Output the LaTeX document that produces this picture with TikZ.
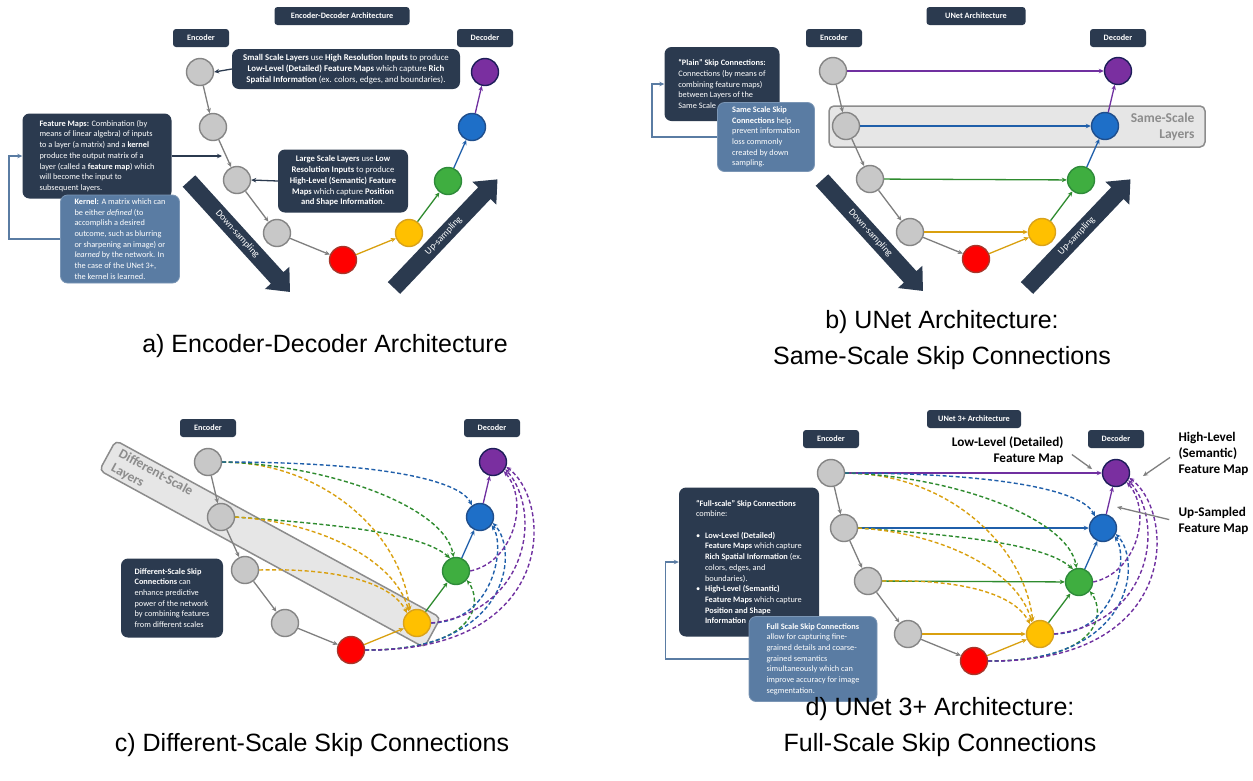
\documentclass[tikz,border=0pt]{standalone}
\usepackage{fontspec}
\setmainfont{Carlito}
\newfontfamily\capfont{Liberation Sans}
\usetikzlibrary{arrows.meta,calc}
\definecolor{navyb}{HTML}{2B3A4F}
\definecolor{steel}{HTML}{5A7CA3}
\definecolor{ngrayf}{HTML}{C8C8C8}
\definecolor{ngrayd}{HTML}{858585}
\definecolor{redf}{HTML}{FF0000}
\definecolor{redd}{HTML}{A8362B}
\definecolor{yelf}{HTML}{FFC000}
\definecolor{yeld}{HTML}{D9A21B}
\definecolor{grnf}{HTML}{3FAE40}
\definecolor{grnd}{HTML}{2E8B3A}
\definecolor{bluf}{HTML}{1E6FC8}
\definecolor{blud}{HTML}{1F4E8C}
\definecolor{purf}{HTML}{7A2FA0}
\definecolor{purd}{HTML}{1E1E5A}
\definecolor{orl}{HTML}{D9A00F}
\definecolor{grl}{HTML}{2E8B2E}
\definecolor{bll}{HTML}{1F5FAA}
\definecolor{pul}{HTML}{7030A0}
\definecolor{gyl}{HTML}{7F7F7F}
\definecolor{bandf}{HTML}{E6E6E6}
\definecolor{bandd}{HTML}{8C8C8C}
\tikzset{
 circ/.style={circle, minimum size=27pt, inner sep=0pt, line width=1.4pt},
 gn/.style={circ, fill=ngrayf, draw=ngrayd},
 rn/.style={circ, fill=redf, draw=redd},
 yn/.style={circ, fill=yelf, draw=yeld},
 grn/.style={circ, fill=grnf, draw=grnd},
 bn/.style={circ, fill=bluf, draw=blud},
 pn/.style={circ, fill=purf, draw=purd},
 atip/.style={-{Stealth[length=5pt,width=4.5pt]}},
 ga/.style={atip, draw=gyl, line width=1.3pt},
 oa/.style={atip, draw=orl, line width=1.3pt},
 gra/.style={atip, draw=grl, line width=1.3pt},
 ba/.style={atip, draw=bll, line width=1.3pt},
 pa/.style={atip, draw=pul, line width=1.3pt},
 dsh/.style={dash pattern=on 4pt off 2.5pt, line width=1.4pt},
 dbox/.style={fill=navyb, rounded corners=7pt, text=white, font=\fontsize{8.3}{10.7}\selectfont, align=left, inner sep=0pt},
 sbox/.style={dbox, fill=steel, draw=steel!80!white, line width=0.8pt},
 tagbox/.style={fill=navyb, rounded corners=3pt, text=white, font=\bfseries\fontsize{8.2}{9}\selectfont, minimum height=18pt, minimum width=56pt, inner sep=0pt},
 navarr/.style={atip, draw=navyb, line width=1.3pt},
 stlarr/.style={atip, draw=steel, line width=1.3pt},
 captxt/.style={font={\capfont\fontsize{25}{36.5}\selectfont}, align=center},
 labtxt/.style={font=\bfseries\fontsize{13.2}{16}\selectfont},
 grayarr/.style={atip, draw=gyl, line width=1.3pt},
 bandbox/.style={fill=bandf, draw=bandd, line width=1.5pt, rounded corners=5pt},
 bandtxt/.style={text=bandd, font=\bfseries\fontsize{13.5}{16}\selectfont},
 bigtxt/.style={text=white, font=\fontsize{9.5}{10}\selectfont},
}
\newcommand\mknodes[1]{%
 \node[gn] (#1g1) at (0,0) {};
 \node[gn] (#1g2) at (13,55) {};
 \node[gn] (#1g3) at (37,108) {};
 \node[gn] (#1g4) at (77,161) {};
 \node[rn] (#1r) at (143,188) {};
 \node[yn] (#1y) at (209,161) {};
 \node[grn] (#1gr) at (248,109) {};
 \node[bn] (#1b) at (272,55) {};
 \node[pn] (#1p) at (285,0) {};
}
\newcommand\mkchain[1]{%
 \draw[ga] (#1g1) -- (#1g2); \draw[ga] (#1g2) -- (#1g3);
 \draw[ga] (#1g3) -- (#1g4); \draw[ga] (#1g4) -- (#1r);
 \draw[oa] (#1r) -- (#1y); \draw[gra] (#1y) -- (#1gr);
 \draw[ba] (#1gr) -- (#1b); \draw[pa] (#1b) -- (#1p);
}
\newcommand\mksame[1]{%
 \draw[pa] (#1g1) -- (#1p); \draw[ba] (#1g2) -- (#1b);
 \draw[gra] (#1g3) -- (#1gr); \draw[oa] (#1g4) -- (#1y);
}
\newcommand\mkdiffL[1]{%
 \draw[oa,dsh] (#1g1.east) .. controls (112,0) and (192,68) .. (#1y.120);
 \draw[gra,dsh] (#1g1.east) .. controls (122,3) and (237,45) .. (#1gr.100);
 \draw[ba,dsh] (#1g1.east) .. controls (172,0) and (252,18) .. (#1b.125);
 \draw[gra,dsh] (#1g2.east) .. controls (122,62) and (212,70) .. (#1gr.115);
 \draw[oa,dsh] (#1g2.east) .. controls (112,60) and (187,98) .. (#1y.125);
 \draw[oa,dsh] (#1g3.east) .. controls (122,106) and (182,118) .. (#1y.135);
}
\newcommand\mkdiffR[1]{%
 \draw[gra,dsh] (#1r.east) .. controls (270,188) and (275,140) .. (#1gr.-40);
 \draw[ba,dsh] (#1r.east) .. controls (300,190) and (312,90) .. (#1b.-25);
 \draw[ba,dsh] (#1y.east) .. controls (285,160) and (298,85) .. (#1b.-35);
 \draw[pa,dsh] (#1r.east) .. controls (350,190) and (345,40) .. (#1p.-20);
 \draw[pa,dsh] (#1y.east) .. controls (320,150) and (335,50) .. (#1p.-30);
 \draw[pa,dsh] (#1gr.east) .. controls (305,100) and (322,40) .. (#1p.-40);
}
\newcommand\bigarr[3]{%
 \begin{scope}[shift={#1}, rotate=#2]
 \fill[navyb] (0,-8.5) -- (131,-8.5) -- (131,-16.5) -- (150,0) -- (131,16.5) -- (131,8.5) -- (0,8.5) -- cycle;
 \node[bigtxt, transform shape] at (72,0) {#3};
 \end{scope}}
\begin{document}
\begin{tikzpicture}[x=1pt,y=-1pt]
\useasboundingbox (0,0) rectangle (1253,780);
\fill[white] (0,0) rectangle (1253,780);

% ---------------- panel a ----------------
\bigarr{(189,181)}{-47.7}{Down-sampling}
\bigarr{(394,288)}{46.4}{Up-sampling}
\begin{scope}[shift={(200,72)}]
 \mknodes{a}
 \mkchain{a}
\end{scope}
\node[tagbox, minimum width=135pt] (atitle) at (342,16) {Encoder-Decoder Architecture};
\node[tagbox] (aenc) at (201,38) {Encoder};
\node[tagbox] (adec) at (485,38) {Decoder};
\node[dbox, align=center, minimum width=228pt, minimum height=40pt, font=\fontsize{8.8}{11}\selectfont] (smallbox) at (346,69)
 {\textbf{Small Scale Layers} use \textbf{High Resolution Inputs} to produce\\
  \textbf{Low-Level (Detailed) Feature Maps} which capture \textbf{Rich}\\
  \textbf{Spatial Information} (ex. colors, edges, and boundaries).};
\draw[navarr] (smallbox.west) -- (ag1.east);
\node[dbox, align=center, minimum width=130pt, minimum height=63pt, font=\fontsize{8.6}{10.7}\selectfont] (largebox) at (343,181)
 {\textbf{Large Scale Layers} use \textbf{Low}\\
  \textbf{Resolution Inputs} to produce\\
  \textbf{High-Level (Semantic) Feature}\\
  \textbf{Maps} which capture \textbf{Position}\\
  \textbf{and Shape Information}.};
\draw[navarr] (largebox.west) -- (ag3.east);
\node[dbox, minimum width=149pt, minimum height=85pt] (fmbox) at (97,156)
 {\textbf{Feature Maps:} Combination (by\\
  means of linear algebra) of inputs\\
  to a layer (a matrix) and a \textbf{kernel}\\
  produce the output matrix of a\\
  layer (called a \textbf{feature map}) which\\
  will become the input to\\
  subsequent layers.};
\coordinate (fmend) at (222,156);
\draw[navarr] (fmbox.east) -- (fmend);
\node[sbox, minimum width=119pt, minimum height=88pt] (kbox) at (120,239)
 {\textbf{Kernel:} A matrix which can\\
  be either \textit{defined} (to\\
  accomplish a desired\\
  outcome, such as blurring\\
  or sharpening an image) or\\
  \textit{learned} by the network. In\\
  the case of the UNet 3+,\\
  the kernel is learned.};
\draw[stlarr] (kbox.west) -- ++(-51,0) |- (fmbox.west);
\node[captxt] (capa) at (325,346) {a) Encoder-Decoder Architecture};

% ---------------- panel b ----------------
\draw[bandbox] (829,106) rectangle (1205,147);
\node[bandtxt, anchor=east, align=right] (sstxt) at (1198,127) {Same-Scale\\Layers};
\bigarr{(822,180)}{-47.7}{Down-sampling}
\bigarr{(1027,288)}{46.4}{Up-sampling}
\begin{scope}[shift={(833,71)}]
 \mknodes{b}
 \mkchain{b}
 \mksame{b}
\end{scope}
\node[tagbox, minimum width=99pt] (btitle) at (976,16) {UNet Architecture};
\node[tagbox] (benc) at (834,38) {Encoder};
\node[tagbox] (bdec) at (1118,38) {Decoder};
\node[dbox, minimum width=115pt, minimum height=74pt] (plainbox) at (722,84)
 {\textbf{“Plain” Skip Connections:}\\
  Connections (by means of\\
  combining feature maps)\\
  between Layers of the\\
  Same Scale};
\node[sbox, minimum width=97pt, minimum height=69pt] (ssbox) at (766,137)
 {\textbf{Same Scale Skip}\\
  \textbf{Connections} help\\
  prevent information\\
  loss commonly\\
  created by down\\
  sampling.};
\draw[stlarr] (ssbox.west) -- ++(-65,0) |- (plainbox.west);
\node[captxt] (capb) at (942,340) {b) UNet Architecture:\\Same-Scale Skip Connections};

% ---------------- panel c ----------------
\node[bandbox, rotate=-28.6, minimum width=370pt, minimum height=34pt, inner sep=0pt] (dsband) at (270,544) {};
\node[bandtxt, rotate=-28.6, align=left] (dstxt) at (152,480) {Different-Scale\\Layers};
\begin{scope}[shift={(208,462)}]
 \mknodes{c}
 \mkchain{c}
 \mkdiffL{c}
 \mkdiffR{c}
\end{scope}
\node[tagbox] (cenc) at (208,428) {Encoder};
\node[tagbox] (cdec) at (492,428) {Decoder};
\node[dbox, minimum width=102pt, minimum height=79pt] (dsbox) at (172,598)
 {\textbf{Different-Scale Skip}\\
  \textbf{Connections} can\\
  enhance predictive\\
  power of the network\\
  by combining features\\
  from different scales};
\node[captxt] (capc) at (312,745) {c) Different-Scale Skip Connections};

% ---------------- panel d ----------------
\begin{scope}[shift={(831,473)}]
 \mknodes{d}
 \mkchain{d}
 \mksame{d}
 \mkdiffL{d}
 \mkdiffR{d}
\end{scope}
\node[tagbox, minimum width=94pt] (dtitle) at (974,419) {UNet 3+ Architecture};
\node[tagbox] (denc) at (831,439) {Encoder};
\node[tagbox] (ddec) at (1116,439) {Decoder};
\node[labtxt, anchor=east, align=right] (lowlbl) at (1067,451) {Low-Level (Detailed)\\Feature Map};
\node[labtxt, anchor=west, align=left] (highlbl) at (1175,454) {High-Level\\(Semantic)\\Feature Map};
\node[labtxt, anchor=west, align=left] (uplbl) at (1175,521) {Up-Sampled\\Feature Map};
\coordinate (lowB) at (1092,469);
\coordinate (highB) at (1143,476);
\coordinate (upB) at (1117,507);
\draw[grayarr, shorten <=6pt] (lowlbl.east) -- (lowB);
\draw[grayarr, shorten <=6pt] (highlbl.west) -- (highB);
\draw[grayarr, shorten <=6pt] (uplbl.west) -- (upB);
\node[dbox, minimum width=140pt, minimum height=149pt] (fsbox) at (749,562)
 {\textbf{“Full-scale” Skip Connections}\\
  combine:\\[10.7pt]
  \makebox[9pt][l]{•}\textbf{Low-Level (Detailed)}\\
  \hspace*{9pt}\textbf{Feature Maps} which capture\\
  \hspace*{9pt}\textbf{Rich Spatial Information} (ex.\\
  \hspace*{9pt}colors, edges, and\\
  \hspace*{9pt}boundaries).\\
  \makebox[9pt][l]{•}\textbf{High-Level (Semantic)}\\
  \hspace*{9pt}\textbf{Feature Maps} which capture\\
  \hspace*{9pt}\textbf{Position and Shape}\\
  \hspace*{9pt}\textbf{Information}};
\node[sbox, minimum width=128pt, minimum height=85pt] (fssbox) at (813,659)
 {\textbf{Full Scale Skip Connections}\\
  allow for capturing fine-\\
  grained details and coarse-\\
  grained semantics\\
  simultaneously which can\\
  improve accuracy for image\\
  segmentation.};
\draw[stlarr] (fssbox.west) -- ++(-83,0) |- (fsbox.west);
\node[captxt] (capd) at (940,727) {d) UNet 3+ Architecture:\\Full-Scale Skip Connections};
\end{tikzpicture}
\end{document}
